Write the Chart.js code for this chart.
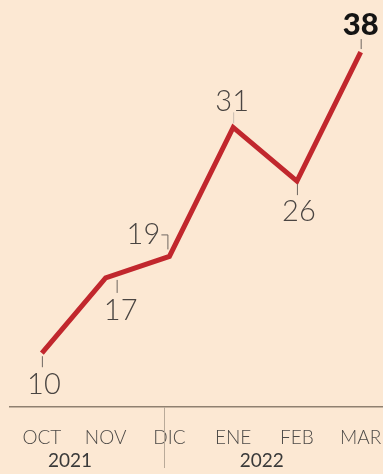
<!DOCTYPE html>
<html>
<head>
<meta charset="utf-8">
<script src="https://cdn.jsdelivr.net/npm/chart.js@4/dist/chart.umd.min.js"></script>
<style>
  html,body{margin:0;padding:0;background:#fce8d3;}
  #wrap{width:383px;height:474px;}
</style>
</head>
<body>
<div id="wrap"><canvas id="c" width="383" height="474"></canvas></div>
<script>
const months = ['OCT', 'NOV', 'DIC', 'ENE', 'FEB', 'MAR'];
const values = [10, 17, 19, 31, 26, 38];
const years = ['2021', '2022'];

// label placement per point (style, not data)
const placement = ['below', 'belowRight', 'leftBracket', 'above', 'below', 'aboveBold'];

const BG = '#fce8d3';
const FONT = 'Lato, "Open Sans", sans-serif';

const bgPlugin = {
  id: 'bg',
  beforeDraw(chart) {
    const ctx = chart.ctx;
    ctx.save();
    ctx.fillStyle = BG;
    ctx.fillRect(0, 0, chart.width, chart.height);
    ctx.restore();
  }
};

const decoPlugin = {
  id: 'deco',
  afterDraw(chart) {
    const ctx = chart.ctx;
    const xs = chart.scales.x;
    const area = chart.chartArea;
    ctx.save();
    // separator between years
    const sx = Math.round(xs.getPixelForValue(1.915)) + 0.5;
    ctx.strokeStyle = '#b9aa99';
    ctx.lineWidth = 1;
    ctx.beginPath();
    ctx.moveTo(sx, area.bottom);
    ctx.lineTo(sx, chart.height - 6);
    ctx.stroke();
    // year labels
    ctx.fillStyle = '#3a3a3a';
    ctx.font = '400 19px ' + FONT;
    ctx.textAlign = 'center';
    ctx.textBaseline = 'middle';
    ctx.fillText(years[0], xs.getPixelForValue(0.44), area.bottom + 54);
    ctx.fillText(years[1], xs.getPixelForValue(3.45), area.bottom + 54);

    // value labels with leader lines
    const meta = chart.getDatasetMeta(0);
    meta.data.forEach((pt, i) => {
      const x = pt.x, y = pt.y;
      const txt = String(values[i]);
      const p = placement[i];
      ctx.strokeStyle = '#6e6660';
      ctx.lineWidth = 1;
      ctx.fillStyle = '#4a4542';
      ctx.font = '300 29px ' + FONT;
      ctx.textAlign = 'center';
      ctx.textBaseline = 'middle';
      ctx.beginPath();
      if (p === 'below') {
        ctx.moveTo(x + 0.5, y + 3); ctx.lineTo(x + 0.5, y + 14); ctx.stroke();
        ctx.fillText(txt, x + 2, y + 31);
      } else if (p === 'belowRight') {
        ctx.moveTo(x + 11.5, y + 2); ctx.lineTo(x + 11.5, y + 15); ctx.stroke();
        ctx.fillText(txt, x + 15, y + 33);
      } else if (p === 'leftBracket') {
        ctx.moveTo(x - 8, y - 21.5); ctx.lineTo(x - 1.5, y - 21.5); ctx.lineTo(x - 1.5, y - 7); ctx.stroke();
        ctx.fillText(txt, x - 26, y - 22);
      } else if (p === 'above') {
        ctx.strokeStyle = '#c9bcb0';
        ctx.moveTo(x + 0.5, y - 4); ctx.lineTo(x + 0.5, y - 15); ctx.stroke();
        ctx.fillText(txt, x - 1, y - 26);
      } else if (p === 'aboveBold') {
        ctx.moveTo(x + 0.5, y - 3); ctx.lineTo(x + 0.5, y - 13); ctx.stroke();
        ctx.fillStyle = '#141414';
        ctx.font = '900 31px ' + FONT;
        ctx.fillText(txt, x, y - 27);
      }
    });
    ctx.restore();
  }
};

new Chart(document.getElementById('c'), {
  type: 'line',
  data: {
    datasets: [{
      data: values.map((v, i) => ({ x: i, y: v })),
      borderColor: '#c1272d',
      borderWidth: 5,
      pointRadius: 0,
      tension: 0,
      fill: false,
      borderJoinStyle: 'miter',
      borderCapStyle: 'butt'
    }]
  },
  options: {
    responsive: false,
    devicePixelRatio: 1,
    animation: false,
    layout: { padding: { left: 10, right: 0, top: 0, bottom: 0 } },
    plugins: { legend: { display: false }, tooltip: { enabled: false } },
    scales: {
      x: {
        type: 'linear',
        min: -0.5,
        max: 5.35,
        afterBuildTicks(scale) { scale.ticks = months.map((m, i) => ({ value: i })); },
        afterFit(scale) { scale.height = 67; scale.paddingLeft = 0; scale.paddingRight = 0; },
        grid: { display: false, drawTicks: false },
        border: { display: true, color: '#8f8070', width: 1.5 },
        ticks: {
          autoSkip: false,
          maxRotation: 0,
          padding: 19,
          color: '#4d4a47',
          font: { family: FONT, size: 19, weight: '300' },
          callback: (v) => months[v]
        }
      },
      y: {
        display: false,
        min: 5,
        max: 42.84
      }
    }
  },
  plugins: [bgPlugin, decoPlugin]
});
</script>
</body>
</html>
